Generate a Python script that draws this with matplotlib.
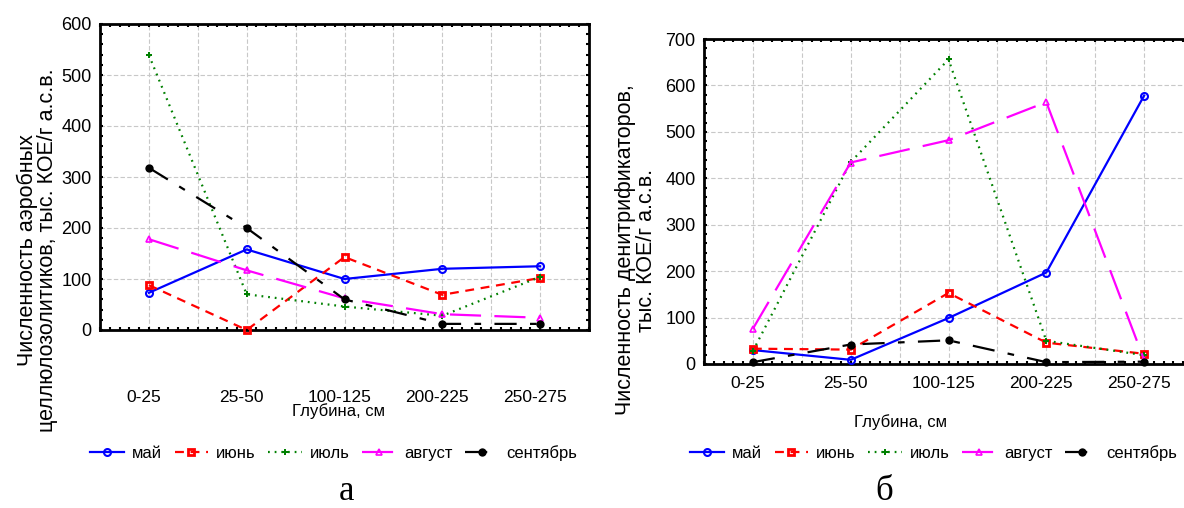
import numpy as np
import matplotlib
matplotlib.use("Agg")
import matplotlib.pyplot as plt
import matplotlib.transforms as mtransforms
from matplotlib.ticker import MultipleLocator

depths = ["0-25", "25-50", "100-125", "200-225", "250-275"]
months = ["май", "июнь", "июль", "август", "сентябрь"]

# panel а: аэробные целлюлозолитики
cell_may = [73, 158, 100, 120, 125]
cell_jun = [88, 0, 143, 69, 102]
cell_jul = [539, 70, 46, 28, 104]
cell_aug = [178, 117, 62, 31, 24]
cell_sep = [318, 200, 60, 12, 12]

# panel б: денитрификаторы
den_may = [30, 9, 99, 197, 578]
den_jun = [33, 31, 153, 46, 22]
den_jul = [28, 435, 656, 50, 19]
den_aug = [76, 434, 482, 564, 9]
den_sep = [4, 42, 51, 4, 5]

styles = [
    dict(color="blue", ls="-", marker="o", ms=5, mfc="none", mew=1.5),
    dict(color="red", ls=(0, (4, 3)), marker="s", ms=5, mfc="none", mew=2),
    dict(color="green", ls=(0, (0.8, 2.2)), marker="P", ms=4, mfc="green", mew=0),
    dict(color="magenta", ls=(0, (14, 6)), marker="^", ms=5, mfc="none", mew=1.2),
    dict(color="black", ls=(0, (10, 6, 3, 6)), marker="o", ms=6, mfc="black", mew=0),
]

SANS = ["Liberation Sans", "DejaVu Sans"]

W, H = 1184, 508
fig = plt.figure(figsize=(W / 100, H / 100), dpi=100)


def box(l, t, r, b):
    return [l / W, 1 - b / H, (r - l) / W, (b - t) / H]


def panel(rect, series, ymax, label_pad):
    ax = fig.add_axes(rect)
    x = np.arange(len(depths))
    lines = []
    for vals, st, name in zip(series, styles, months):
        ln, = ax.plot(x, vals, lw=1.6, label=name, clip_on=False, zorder=3, **st)
        lines.append(ln)
    ax.set_xlim(-0.5, 4.5)
    ax.set_ylim(0, ymax)
    ax.set_xticks(x)
    ax.set_xticklabels(depths, family=SANS, fontsize=12.5)
    ax.set_yticks(np.arange(0, ymax + 1, 100))
    ax.set_yticklabels([str(v) for v in range(0, ymax + 1, 100)], family=SANS, fontsize=13)
    ax.xaxis.set_minor_locator(MultipleLocator(0.1))
    ax.yaxis.set_minor_locator(MultipleLocator(20))
    ax.tick_params(which="both", direction="in", top=True, right=True,
                   length=2.5, width=1.5, color="black")
    ax.tick_params(axis="x", which="major", pad=label_pad)
    ax.tick_params(axis="y", which="major", pad=6)
    # gridlines at every half category and every 100
    for gx in np.arange(0, 4.6, 0.5):
        ax.axvline(gx, color="#c8c8c8", lw=0.8, ls=(0, (4, 2)), zorder=1)
    for gy in range(100, ymax, 100):
        ax.axhline(gy, color="#c8c8c8", lw=0.8, ls=(0, (4, 2)), zorder=1)
    for sp in ax.spines.values():
        sp.set_linewidth(2)
    shift = mtransforms.ScaledTranslation(-5 / 100, 0, fig.dpi_scale_trans)
    for lab in ax.get_xticklabels():
        lab.set_transform(lab.get_transform() + shift)
    return ax, lines


axa, lines_a = panel(box(100, 24, 589, 330),
                     [cell_may, cell_jun, cell_jul, cell_aug, cell_sep], 600, 43)
axb, lines_b = panel(box(704, 39, 1193, 364),
                     [den_may, den_jun, den_jul, den_aug, den_sep], 700, 9)

fig.text(37 / W, 1 - 250 / H,
         "Численность аэробных\nцеллюлозолитиков, тыс. КОЕ/г а.с.в.",
         rotation=90, ha="center", va="center", family=SANS, fontsize=15.5,
         multialignment="center", linespacing=0.95)
fig.text(636 / W, 1 - 250 / H,
         "Численность денитрификаторов,\nтыс. КОЕ/г а.с.в.",
         rotation=90, ha="center", va="center", family=SANS, fontsize=15.5,
         multialignment="center", linespacing=0.95)

fig.text(338 / W, 1 - 411 / H, "Глубина, см", ha="center", va="center",
         family=SANS, fontsize=12)
fig.text(900 / W, 1 - 422 / H, "Глубина, см", ha="center", va="center",
         family=SANS, fontsize=12)

for lines, cx in [(lines_a, 334), (lines_b, 934)]:
    fig.legend(lines, months, loc="center", bbox_to_anchor=(cx / W, 1 - 453 / H),
               ncol=5, frameon=False, prop={"family": SANS, "size": 12},
               handlelength=2.0, handletextpad=0.5, columnspacing=0.75,
               borderaxespad=0)

fig.text(346 / W, 1 - 492 / H, "а", ha="center", va="center",
         family=["Liberation Serif", "DejaVu Serif"], fontsize=25)
fig.text(884 / W, 1 - 492 / H, "б", ha="center", va="center",
         family=["Liberation Serif", "DejaVu Serif"], fontsize=25)

fig.savefig("out.png", dpi=100)
